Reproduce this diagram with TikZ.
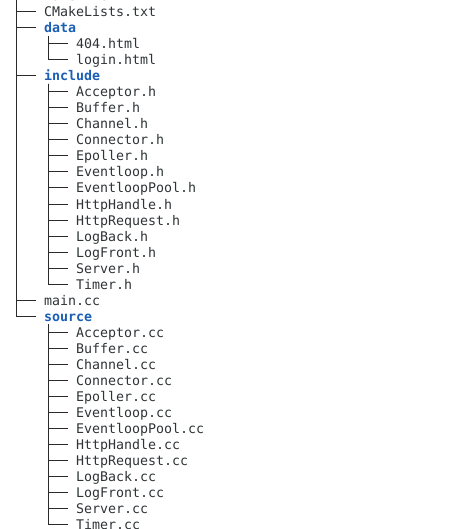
\documentclass[tikz,border=0pt]{standalone}
\usepackage{fontspec}
\setmonofont{DejaVu Sans Mono}
\definecolor{txt}{HTML}{2E3436}
\definecolor{dircol}{HTML}{1A5FB4}
\definecolor{ln}{HTML}{2A2A2A}
\begin{document}
\begin{tikzpicture}[x=1pt,y=-1pt,
  file/.style={anchor=base west, inner sep=0pt, outer sep=0pt,
    font=\ttfamily\fontsize{13.3}{16}\selectfont, text=txt},
  dirn/.style={file, font=\ttfamily\bfseries\fontsize{13.3}{16}\selectfont, text=dircol},
  branch/.style={draw=ln, line width=1pt}]
\useasboundingbox (0,0) rectangle (463,529);
\clip (0,0) rectangle (463,529);
% level 1
\coordinate (root) at (16,-12);
\node[file] (makefile) at (44,1) {Makefile};
\node[file] (cmake) at (44,17) {CMakeLists.txt};
\node[dirn] (data) at (44,33) {data};
\node[file] (f404) at (76,49) {404.html};
\node[file] (login) at (76,65) {login.html};
\node[dirn] (include) at (44,81) {include};
\node[file] (main) at (44,305) {main.cc};
\node[dirn] (source) at (44,321) {source};
\foreach \n in {makefile,cmake,data,include,main,source}
  \draw[branch] (root) |- ([shift={(-8,-5)}]\n.base west);
% data
\foreach \n in {f404,login}
  \draw[branch] ([shift={(4,3)}]data.base west) |- ([shift={(-8,-5)}]\n.base west);
% include
\foreach [count=\k from 0] \f in {Acceptor,Buffer,Channel,Connector,Epoller,Eventloop,EventloopPool,HttpHandle,HttpRequest,LogBack,LogFront,Server,Timer} {
  \node[file] (h\k) at (76,97+16*\k) {\f.h};
  \draw[branch] ([shift={(4,3)}]include.base west) |- ([shift={(-8,-5)}]h\k.base west);
}
% source
\foreach [count=\k from 0] \f in {Acceptor,Buffer,Channel,Connector,Epoller,Eventloop,EventloopPool,HttpHandle,HttpRequest,LogBack,LogFront,Server,Timer} {
  \node[file] (c\k) at (76,337+16*\k) {\f.cc};
  \draw[branch] ([shift={(4,3)}]source.base west) |- ([shift={(-8,-5)}]c\k.base west);
}
\end{tikzpicture}
\end{document}
